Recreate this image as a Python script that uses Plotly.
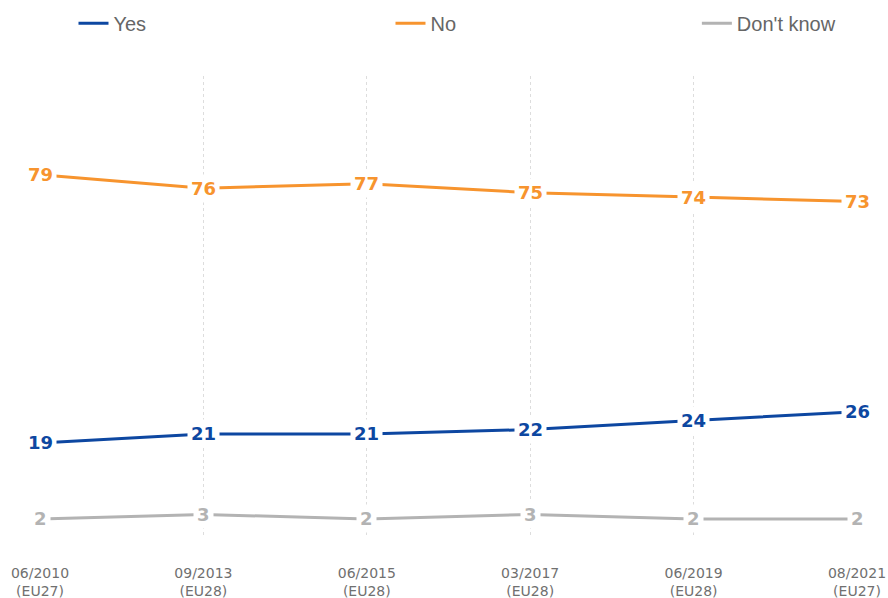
import plotly.graph_objects as go

periods = ["06/2010<br>(EU27)", "09/2013<br>(EU28)", "06/2015<br>(EU28)",
           "03/2017<br>(EU28)", "06/2019<br>(EU28)", "08/2021<br>(EU27)"]
yes = [19, 21, 21, 22, 24, 26]
no = [79, 76, 77, 75, 74, 73]
dont_know = [2, 3, 2, 3, 2, 2]

series = [("Yes", yes, "#0D47A1"), ("No", no, "#F7942E"), ("Don't know", dont_know, "#B3B3B3")]
legend_x = [0.041, 0.429, 0.804]

x = list(range(len(periods)))
fig = go.Figure()
annotations = []
layout_legends = {}
for i, (name, vals, color) in enumerate(series):
    lg = "legend" if i == 0 else f"legend{i+1}"
    fig.add_trace(go.Scatter(x=x, y=vals, mode="lines", name=name, legend=lg,
                             line=dict(color=color, width=3), hoverinfo="skip"))
    layout_legends[lg] = dict(orientation="h", x=legend_x[i], xanchor="left",
                              y=1.115, yanchor="middle", itemwidth=30,
                              bgcolor="rgba(0,0,0,0)",
                              font=dict(family="Liberation Sans", size=20, color="#666666"))
    for xi, v in zip(x, vals):
        annotations.append(dict(x=xi, y=v, text=f"<b>{v}</b>", showarrow=False,
                                font=dict(family="DejaVu Sans", size=18, color=color),
                                bgcolor="white", borderpad=3))

fig.update_layout(
    width=888, height=598,
    margin=dict(l=40, r=31, t=76, b=63, autoexpand=False),
    paper_bgcolor="white", plot_bgcolor="white",
    annotations=annotations,
    showlegend=True,
    xaxis=dict(range=[0, 5], tickvals=x, ticktext=periods, showgrid=True,
               gridcolor="#DDDDDD", griddash="dot", gridwidth=1, zeroline=False,
               showline=False, ticks="", ticklabelstandoff=28, automargin=False,
               ticklabeloverflow="allow",
               tickfont=dict(family="DejaVu Sans", size=14, color="#707070")),
    yaxis=dict(range=[-1.6, 101.1], visible=False, showgrid=False, zeroline=False),
    **layout_legends,
)
fig.write_html("out.html", config={"displayModeBar": False},
               post_script="document.body.style.margin='0px';document.body.style.overflow='hidden';")
